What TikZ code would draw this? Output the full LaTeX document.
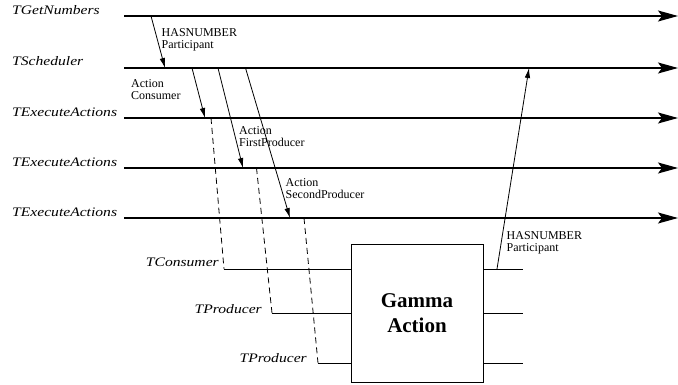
\documentclass[tikz,border=0pt]{standalone}
\usepackage{fontspec}
\setmainfont{Liberation Serif}
\usetikzlibrary{arrows.meta}
\begin{document}
\begin{tikzpicture}[x=1pt,y=-1pt,
  thread/.style={line width=1.1pt,-{Stealth[length=20pt,width=11pt,inset=4pt]}},
  stub/.style={line width=1pt},
  msg/.style={line width=0.8pt,-{Latex[length=10pt,width=5.5pt]}},
  spawn/.style={line width=0.8pt,dash pattern=on 6pt off 4pt},
  tname/.style={inner sep=0pt,font=\fontsize{13}{15}\selectfont\itshape,xscale=1.2},
  mlabel/.style={inner sep=0pt,anchor=north west,align=left,font=\fontsize{12}{12.3}\selectfont},
]
\useasboundingbox (0,0) rectangle (678,385);

% main thread time lines
\foreach \i/\y in {1/16,2/68,3/118,4/168,5/218}{
  \coordinate (s\i) at (124,\y);
  \coordinate (e\i) at (678,\y);
}
\node[tname,anchor=base west] (l1) at (12,15) {TGetNumbers};
\node[tname,anchor=base west] (l2) at (12,66) {TScheduler};
\node[tname,anchor=base west] (l3) at (12,117) {TExecuteActions};
\node[tname,anchor=base west] (l4) at (12,167) {TExecuteActions};
\node[tname,anchor=base west] (l5) at (12,217) {TExecuteActions};
\foreach \i in {1,...,5}{ \draw[thread] (s\i) -- (e\i); }

% Gamma action box
\node[draw,line width=1pt,minimum width=132pt,minimum height=138pt,inner sep=0pt,
      align=center,font=\fontsize{21}{24.5}\selectfont\bfseries] (gamma) at (417,313) {Gamma\\Action};

% worker threads entering the box
\coordinate (c1) at (224,269);
\coordinate (p1) at (272,313);
\coordinate (p2) at (318,363);
\coordinate (g1) at (gamma.west |- c1);
\coordinate (g2) at (gamma.west |- p1);
\coordinate (g3) at (gamma.west |- p2);
\draw[stub] (c1) -- (g1);
\draw[stub] (p1) -- (g2);
\draw[stub] (p2) -- (g3);
\node[tname,anchor=base east] (lc) at (219,266) {TConsumer};
\node[tname,anchor=base east] (lp1) at (262,313) {TProducer};
\node[tname,anchor=base east] (lp2) at (307,362) {TProducer};

% outputs of the box
\coordinate (o1) at (gamma.east |- c1);
\coordinate (o2) at (gamma.east |- p1);
\coordinate (o3) at (gamma.east |- p2);
\coordinate (r1) at (523,269);
\coordinate (r2) at (523,313);
\coordinate (r3) at (523,363);
\draw[stub] (o1) -- (r1);
\draw[stub] (o2) -- (r2);
\draw[stub] (o3) -- (r3);

% messages between threads
\coordinate (hA) at (151,16);  \coordinate (hB) at (165,68);
\draw[msg] (hA) -- (hB);
\coordinate (aA) at (192,68);  \coordinate (aB) at (205,118);
\draw[msg] (aA) -- (aB);
\coordinate (bA) at (218,68);  \coordinate (bB) at (243,168);
\draw[msg] (bA) -- (bB);
\coordinate (dA) at (245.5,68); \coordinate (dB) at (290,218);
\draw[msg] (dA) -- (dB);
\coordinate (uA) at (497,269); \coordinate (uB) at (529,68);
\draw[msg] (uA) -- (uB);

% spawned threads
\coordinate (x1) at (211,118);
\coordinate (x2) at (256.5,168);
\coordinate (x3) at (304,218);
\draw[spawn] (x1) -- (c1);
\draw[spawn] (x2) -- (p1);
\draw[spawn] (x3) -- (p2);

% message labels
\node[mlabel] (m1) at (161.5,28.5) {HASNUMBER\\Participant};
\node[mlabel] (m2) at (131,79) {Action\\Consumer};
\node[mlabel] (m3) at (239,126) {Action\\FirstProducer};
\node[mlabel] (m4) at (285.5,178) {Action\\SecondProducer};
\node[mlabel] (m5) at (506.5,231) {HASNUMBER\\Participant};
\end{tikzpicture}
\end{document}
